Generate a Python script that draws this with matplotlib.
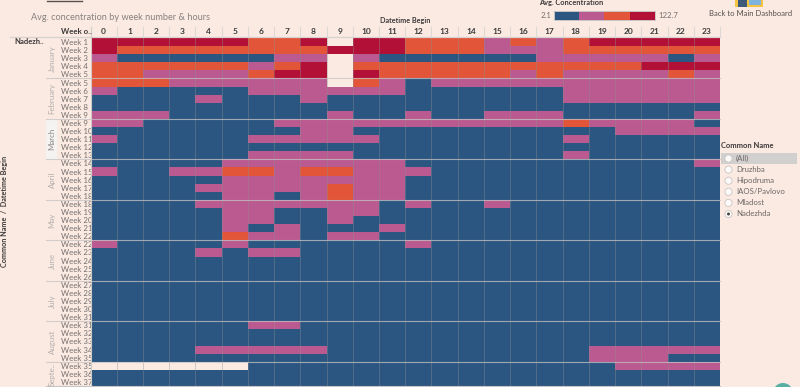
import numpy as np
import matplotlib
matplotlib.use("Agg")
import matplotlib.pyplot as plt
from matplotlib.colors import ListedColormap, BoundaryNorm
from matplotlib.patches import Rectangle, Circle

plt.rcParams['font.family'] = ['Lato', 'DejaVu Sans']

hours = list(range(24))
months = ["January", "February", "March", "April", "May", "June", "July", "August", "Septe.."]
weeks = [
    [1, 2, 3, 4, 5], [5, 6, 7, 8, 9], [9, 10, 11, 12, 13], [14, 15, 16, 17, 18],
    [18, 19, 20, 21, 22], [22, 23, 24, 25, 26], [27, 28, 29, 30, 31],
    [31, 32, 33, 34, 35], [35, 36, 37],
]
# colour band per cell, hour 0..23: 1 lowest, 4 highest, . no data
january = ["444444334.44333232344444",
           "433333333444333222333333",
           "211111122.21111112222212",
           "333333234.33333333333444",
           "332222344.43333323222232"]
february = ["333222222.32122222222222",
            "211111222222111111222222",
            "111121112111111111222222",
            "111111111111111111111111",
            "222111111211211222111112"]
march = ["221111122222222222322221",
         "111111112211111111112222",
         "211111222221111111211111",
         "111111111111111111111111",
         "111111222211111111211111"]
april = ["111112222222111111111112",
         "211223323322211111111111",
         "111112222222111111111111",
         "111122222322111111111111",
         "111112212322111111111111"]
may = ["111122222221211211111111",
       "111112211221111111111111",
       "111112211211111111111111",
       "111112121112111111111111",
       "111113221221111111111111"]
june = ["211112111111211111111111",
        "111121221111111111111111",
        "111111111111111111111111",
        "111111111111111111111111",
        "111111111111111111111111"]
july = ["111111111111111111111111"] * 5
august = ["111111221111111111111111",
          "111111111111111111111111",
          "111111111111111111111111",
          "111122222111111111122222",
          "111111111111111111122211"]
september = ["......111111111111112222",
             "111111111111111111111111",
             "111111111111111111111111"]
month_rows = [january, february, march, april, may, june, july, august, september]

BG = "#FBEAE2"
BLUE, PINK, ORANGE, RED = "#2B5682", "#BA5A90", "#E25539", "#B31038"
GREY = "#74706e"
DARK = "#3c3a39"
W, H = 800, 387

rows = [r for m in month_rows for r in m]
grid = np.array([[np.nan if c == "." else float(c) for c in r] for r in rows])
labels = [f"Week {w}" for ws in weeks for w in ws]
n = len(rows)

fig = plt.figure(figsize=(W / 100, H / 100), dpi=100, facecolor=BG)


def px(x, y):
    return x / W, 1 - y / H


def T(x, y, s, **kw):
    kw.setdefault("va", "center")
    kw.setdefault("ha", "left")
    kw.setdefault("color", GREY)
    kw.setdefault("fontsize", 5.8)
    return fig.text(*px(x, y), s, **kw)


def box(x0, y0, x1, y1, **kw):
    kw.setdefault("edgecolor", "none")
    fig.add_artist(Rectangle(px(x0, y1), (x1 - x0) / W, (y1 - y0) / H,
                             transform=fig.transFigure, **kw))


L, R, TOP, BOT = 90.5, 720, 38, 386
ax = fig.add_axes([L / W, 1 - BOT / H, (R - L) / W, (BOT - TOP) / H])
ax.set_facecolor(BG)
cmap = ListedColormap([BLUE, PINK, ORANGE, RED])
norm = BoundaryNorm([0.5, 1.5, 2.5, 3.5, 4.5], 4)
ax.pcolormesh(np.arange(25), np.arange(n + 1), grid, cmap=cmap, norm=norm)
ax.set_xlim(0, 24)
ax.set_ylim(n, 0)
for s in ax.spines.values():
    s.set_visible(False)
ax.xaxis.tick_top()
ax.set_xticks(np.arange(24) + 0.5, hours, fontsize=6, color=DARK, fontweight="bold")
ax.set_yticks(np.arange(n) + 0.5, labels, fontsize=5.7, color=GREY, ha="left")
ax.tick_params(axis="both", length=0)
ax.tick_params(axis="x", pad=1.8)
ax.tick_params(axis="y", pad=21.2)
for i in range(1, 24):
    ax.axvline(i, color="#8f8f8f", lw=0.7, alpha=0.4)

# month bands
box(46, 119, 57, 159, facecolor="#F4F3F2", zorder=-1)
start = 0
rh = (BOT - TOP) / n
for m, ws in zip(months, weeks):
    mid = TOP + (start + len(ws) / 2) * rh
    T(52, mid, m, rotation=90, ha="center", fontsize=5.7,
      color="#8a8583" if m == "March" else "#b3aeab")
    start += len(ws)
    y = TOP + start * rh
    fig.add_artist(plt.Line2D([46 / W, R / W], [1 - y / H] * 2, color="#c5c3c3", lw=0.8,
                              alpha=0.75 if y < BOT - 2 else 1))

# header
fig.add_artist(plt.Line2D([10 / W, R / W], [1 - 37.3 / H] * 2, color="#d6d2d0", lw=0.9))
for i in range(25):
    x = L + i * (R - L) / 24
    fig.add_artist(plt.Line2D([x / W] * 2, [1 - 27 / H, 1 - 37 / H], color="#dcd8d5", lw=0.8))
fig.add_artist(plt.Line2D([L / W] * 2, [1 - 27 / H, 1 - BOT / H], color="#cfcbc8", lw=0.8))

T(31, 17, "Avg. concentration by week number & hours", fontsize=6.6, color="#85817f")
T(380, 20, "Datetime Begin", fontsize=5.2, color=DARK, fontweight="bold")
T(61, 32, "Week o..", fontsize=5.7, color=DARK, fontweight="bold")
T(14, 42, "Nadezh..", fontsize=5.5, color=DARK, fontweight="bold")
T(5, 211, "Common Name  /  Datetime Begin", rotation=90, ha="center", fontsize=5.2,
  color=DARK, fontweight="bold")
fig.add_artist(plt.Line2D([47 / W, 82 / W], [1 - 0.5 / H] * 2, color="#55504e", lw=1))

# colour legend
T(539, 3, "Avg. Concentration", fontsize=5.3, color=DARK, fontweight="bold")
T(541, 15.5, "2.1", fontsize=5.6)
T(658, 15.5, "122.7", fontsize=5.6)
for i, c in enumerate([BLUE, PINK, ORANGE, RED]):
    x0 = 553.5 + i * 25.4
    box(x0, 11, x0 + 25.4, 20, facecolor=c)
box(553.5, 11, 655.1, 20, facecolor="none", edgecolor="#c9c4c1", lw=0.7)

# back button
box(735, -1, 763, 6.5, facecolor="#F6C343")
box(738, -1, 747, 6.5, facecolor="#3F5A78")
box(749, -1, 761, 4.5, facecolor="#7FB2DC")
T(709, 13, "Back to Main Dashboard", fontsize=5.5, color="#55504e")

# filter
T(721, 146, "Common Name", fontsize=5.4, color=DARK, fontweight="bold")
box(721, 153, 796.5, 164.5, facecolor="#D2D0CF")
options = ["(All)", "Druzhba", "Hipodruma", "IAOS/Pavlovo", "Mladost", "Nadezhda"]
selected = "Nadezhda"

corner = fig.add_axes([0, 0, 1, 1], facecolor="none", zorder=6)
corner.set_xlim(0, W)
corner.set_ylim(H, 0)
corner.axis("off")
for i, o in enumerate(options):
    y = 158.5 + i * 11.1
    T(736, y, o, fontsize=5.6, color="#6b6765")
    corner.add_patch(Circle((728.5, y), 3.6, facecolor="#FDFBFA", edgecolor="#c8c4c2", lw=0.6))
    if o == selected:
        corner.add_patch(Circle((728.5, y), 1.5, facecolor="#4a4644", edgecolor="none"))
corner.add_patch(Circle((783, 393), 10, facecolor="#57AFA3", edgecolor="none"))

fig.savefig("out.png", dpi=100, facecolor=BG)
